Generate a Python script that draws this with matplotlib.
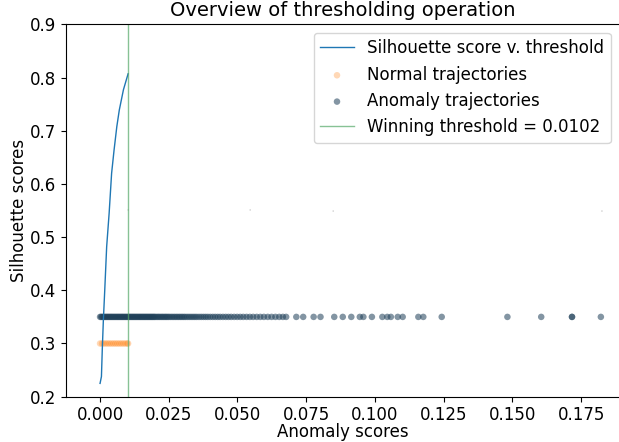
import matplotlib
matplotlib.use("Agg")
import matplotlib.pyplot as plt

# silhouette score as a function of threshold
thresholds = [0.0000, 0.0005, 0.0008, 0.0012, 0.0017, 0.0024, 0.0033, 0.0042,
              0.0051, 0.0061, 0.0070, 0.0085, 0.0102]
silhouette = [0.225, 0.238, 0.288, 0.344, 0.400, 0.482, 0.545, 0.620,
              0.664, 0.708, 0.739, 0.777, 0.807]

winning_threshold = 0.0102

# anomaly scores of normal trajectories (plotted at y = 0.30)
normal_scores = [
    0.0000, 0.0007, 0.0014, 0.0021, 0.0028, 0.0035, 0.0042, 0.0049,
    0.0056, 0.0063, 0.0070, 0.0077, 0.0084, 0.0091, 0.0098, 0.0102,
]
normal_level = 0.30

# anomaly scores of anomalous trajectories (plotted at y = 0.35)
anomaly_scores = [
    0.0000, 0.0004, 0.0008, 0.0012, 0.0016, 0.0020, 0.0024, 0.0028, 0.0032,
    0.0036, 0.0040, 0.0044, 0.0048, 0.0052, 0.0056, 0.0060, 0.0064, 0.0068,
    0.0072, 0.0076, 0.0080, 0.0084, 0.0088, 0.0092, 0.0096, 0.0100, 0.0104,
    0.0108, 0.0112, 0.0116, 0.0120, 0.0124, 0.0128, 0.0132, 0.0136, 0.0140,
    0.0144, 0.0148, 0.0152, 0.0156, 0.0160, 0.0164, 0.0168, 0.0172, 0.0176,
    0.0180, 0.0184, 0.0188, 0.0192, 0.0196, 0.0200, 0.0205, 0.0210, 0.0215,
    0.0220, 0.0225, 0.0230, 0.0235, 0.0240, 0.0245, 0.0250, 0.0256, 0.0262,
    0.0268, 0.0274, 0.0280, 0.0286, 0.0292, 0.0298, 0.0304, 0.0310, 0.0317,
    0.0324, 0.0331, 0.0338, 0.0345, 0.0352, 0.0360, 0.0368, 0.0376, 0.0384,
    0.0392, 0.0401, 0.0410, 0.0419, 0.0428, 0.0437, 0.0447, 0.0457, 0.0467,
    0.0477, 0.0488, 0.0499, 0.0510, 0.0521, 0.0533, 0.0545, 0.0557, 0.0570,
    0.0583, 0.0596, 0.0610, 0.0624, 0.0638, 0.0652, 0.0665, 0.0677,
    0.0714, 0.0739, 0.0777, 0.0802, 0.0852, 0.0883, 0.0914, 0.0945, 0.0958,
    0.0989, 0.1027, 0.1045, 0.1058, 0.1083, 0.1101, 0.1158, 0.1176, 0.1243,
    0.1482, 0.1605, 0.1717, 0.1717, 0.1822,
]
anomaly_level = 0.35

# a few stray marks around y = 0.55
stray_x = [0.0102, 0.0546, 0.0848, 0.1826]
stray_y = [0.551, 0.551, 0.549, 0.549]

fig = plt.figure(figsize=(6.19, 4.42), dpi=100)
ax = fig.add_axes([0.1066, 0.1025, 0.8934, 0.8425])

ax.plot(thresholds, silhouette, color="tab:blue", linewidth=1.0,
        label="Silhouette score v. threshold")
ax.scatter(normal_scores, [normal_level] * len(normal_scores), s=22,
           color="#ff7f0e", alpha=0.3, edgecolors="none",
           label="Normal trajectories")
ax.scatter(anomaly_scores, [anomaly_level] * len(anomaly_scores), s=22,
           color="#1e3f58", alpha=0.55, edgecolors="none",
           label="Anomaly trajectories")
ax.scatter(stray_x, stray_y, s=0.6, color="#555555", alpha=0.6,
           edgecolors="none")
ax.axvline(winning_threshold, color="#55a868", alpha=0.7, linewidth=1.0,
           label=f"Winning threshold = {winning_threshold}")

ax.set_xlim(-0.0124, 0.1888)
ax.set_ylim(0.2, 0.9)
ax.set_xticks([0.0, 0.025, 0.05, 0.075, 0.1, 0.125, 0.15, 0.175])
ax.set_yticks([0.2, 0.3, 0.4, 0.5, 0.6, 0.7, 0.8, 0.9])
ax.set_xticklabels(["0.000", "0.025", "0.050", "0.075", "0.100", "0.125",
                    "0.150", "0.175"])
ax.tick_params(labelsize=12)
ax.set_xlabel("Anomaly scores", fontsize=12, labelpad=-1)
ax.set_ylabel("Silhouette scores", fontsize=12, labelpad=1)
ax.set_title("Overview of thresholding operation", fontsize=14)
ax.spines["right"].set_visible(False)
ax.legend(loc="upper right", fontsize=12)

fig.savefig("out.png", dpi=100)
plt.close()
